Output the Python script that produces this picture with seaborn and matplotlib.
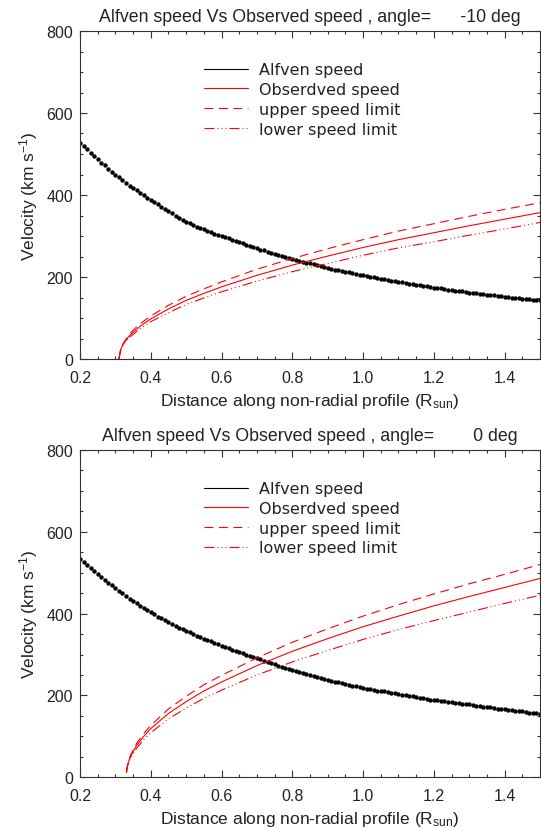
import numpy as np
import pandas as pd
import seaborn as sns
import matplotlib.pyplot as plt
from matplotlib.lines import Line2D
from matplotlib.ticker import MultipleLocator

# Alfven speed, one point every 0.01 Rsun from 0.2 to 1.5
distance = np.round(np.linspace(0.2, 1.5, 131), 2)

alfven_m10 = [527, 519, 511, 503, 495, 487, 479, 472, 464, 457,
              450, 443, 436, 430, 423, 417, 411, 405, 399, 393,
              388, 382, 377, 371, 366, 360, 355, 350, 345, 340,
              335, 331, 327, 323, 319, 316, 312, 309, 306, 303,
              300, 297, 294, 291, 288, 285, 282, 279, 276, 273,
              270, 267, 265, 262, 259, 257, 254, 252, 249, 247,
              244, 242, 240, 237, 235, 233, 231, 229, 227, 224,
              222, 220, 218, 217, 215, 213, 211, 209, 207, 206,
              204, 202, 201, 199, 198, 196, 194, 193, 191, 190,
              188, 187, 185, 184, 183, 181, 180, 178, 177, 175,
              174, 173, 172, 170, 169, 168, 167, 166, 165, 163,
              162, 161, 160, 159, 158, 157, 156, 155, 154, 153,
              152, 151, 150, 149, 148, 147, 147, 146, 145, 144,
              143]

alfven_0 = [534, 526, 519, 511, 504, 497, 490, 483, 476, 470,
            463, 456, 450, 443, 437, 431, 425, 419, 414, 408,
            403, 398, 393, 389, 384, 380, 375, 371, 366, 362,
            358, 354, 350, 346, 343, 339, 336, 332, 329, 325,
            322, 319, 316, 312, 309, 306, 303, 300, 297, 294,
            291, 288, 285, 282, 279, 276, 273, 270, 267, 265,
            262, 260, 257, 255, 252, 250, 248, 245, 243, 240,
            238, 236, 234, 232, 230, 228, 226, 224, 222, 220,
            218, 217, 215, 214, 212, 211, 210, 208, 207, 205,
            204, 202, 201, 199, 198, 196, 195, 193, 192, 190,
            189, 188, 187, 186, 185, 184, 182, 181, 180, 179,
            178, 177, 175, 174, 173, 172, 171, 169, 168, 167,
            166, 165, 164, 163, 162, 161, 160, 158, 157, 156,
            155]

# observed speed and its limits, angle = -10 deg
obs_dist_m10 = [0.31, 0.315, 0.32, 0.33, 0.34, 0.35, 0.37, 0.40, 0.45, 0.50, 0.55,
                0.60, 0.70, 0.80, 0.90, 1.00, 1.10, 1.20, 1.30, 1.40, 1.50]
observed_m10 = [0, 23, 33, 46, 57, 65, 80, 98, 122, 143, 160,
                176, 204, 229, 251, 272, 291, 308, 325, 341, 357]
upper_m10 = [0, 24, 35, 49, 61, 70, 86, 105, 131, 153, 171,
             188, 219, 245, 269, 291, 312, 330, 348, 365, 381]
lower_m10 = [0, 21, 31, 43, 53, 60, 74, 91, 113, 133, 149,
             164, 190, 213, 233, 253, 271, 286, 302, 317, 333]

# observed speed and its limits, angle = 0 deg
obs_dist_0 = [0.331, 0.335, 0.34, 0.35, 0.36, 0.38, 0.40, 0.45, 0.50, 0.55,
              0.60, 0.70, 0.80, 0.90, 1.00, 1.10, 1.20, 1.30, 1.40, 1.50]
observed_0 = [12, 32, 45, 63, 78, 100, 119, 156, 185, 211,
              233, 273, 308, 339, 368, 394, 419, 442, 464, 486]
upper_0 = [12, 34, 48, 67, 83, 107, 127, 167, 198, 226,
           249, 292, 330, 363, 394, 422, 448, 473, 496, 520]
lower_0 = [11, 29, 41, 58, 71, 92, 109, 143, 169, 193,
           213, 250, 282, 310, 337, 361, 383, 404, 425, 445]

angles = [-10, 0]
legend_labels = ['Alfven speed', 'Obserdved speed', 'upper speed limit', 'lower speed limit']

sns.set_theme(style='ticks')
plt.rcParams['font.family'] = ['Liberation Sans', 'DejaVu Sans']
plt.rcParams['mathtext.fontset'] = 'custom'
plt.rcParams['mathtext.rm'] = 'Liberation Sans'
plt.rcParams['mathtext.it'] = 'Liberation Sans:italic'

txt = '#222222'
lw = 0.8
dash_map = {'obs': '', 'upper': (8, 5), 'lower': (9, 2.7, 0.9, 2.7, 0.9, 2.7, 0.9, 2.7)}

fig = plt.figure(figsize=(5.41, 8.29), dpi=100)
ax1 = fig.add_axes([80 / 541, 1 - 360 / 829, 460 / 541, 328 / 829])
ax2 = fig.add_axes([80 / 541, 1 - 778.3 / 829, 460 / 541, 327.3 / 829])

panels = [
    (ax1, alfven_m10, obs_dist_m10, observed_m10, upper_m10, lower_m10),
    (ax2, alfven_0, obs_dist_0, observed_0, upper_0, lower_0),
]

for (ax, alfven, od, obs, up, low), angle in zip(panels, angles):
    n = len(od)
    df = pd.DataFrame({
        'dist': od * 3,
        'speed': obs + up + low,
        'kind': ['obs'] * n + ['upper'] * n + ['lower'] * n,
    })
    sns.lineplot(data=df, x='dist', y='speed', style='kind', dashes=dash_map,
                 color='red', lw=lw, estimator=None, sort=False, legend=False, ax=ax)
    sns.scatterplot(x=distance, y=alfven, color='black', s=10, linewidth=0,
                    marker='o', legend=False, ax=ax)

    ax.set_xlim(0.2, 1.5)
    ax.set_ylim(0, 800)
    ax.xaxis.set_major_locator(MultipleLocator(0.2))
    ax.xaxis.set_minor_locator(MultipleLocator(0.05))
    ax.yaxis.set_major_locator(MultipleLocator(200))
    ax.yaxis.set_minor_locator(MultipleLocator(50))
    ax.xaxis.set_major_formatter(plt.FuncFormatter(lambda v, p: f'{v:.1f}'))
    ax.tick_params(which='both', direction='in', top=True, right=True,
                   width=0.8, color='#333333', labelsize=11.5, labelcolor=txt)
    ax.tick_params(which='major', length=5)
    ax.tick_params(which='minor', length=2.5)
    ax.tick_params(axis='x', pad=8)
    ax.tick_params(axis='y', pad=5)
    for sp in ax.spines.values():
        sp.set_linewidth(0.8)
        sp.set_color('#333333')

    ax.set_xlabel(r'Distance along non-radial profile (R$_{\rm sun}$)',
                  fontsize=12.5, color=txt, labelpad=4)
    ax.set_ylabel(r'Velocity (km s$^{-1}$)', fontsize=12.5, color=txt, labelpad=4.5)
    ax.set_title(f'Alfven speed Vs Observed speed , angle= {angle:8d} deg',
                 fontsize=12.8, color=txt, pad=7)

    handles = [
        Line2D([], [], color='black', lw=lw),
        Line2D([], [], color='red', lw=lw),
        Line2D([], [], color='red', lw=lw, dashes=dash_map['upper']),
        Line2D([], [], color='red', lw=lw, dashes=dash_map['lower']),
    ]
    leg = ax.legend(handles, legend_labels, loc='upper left', bbox_to_anchor=(0.269, 0.905),
                    frameon=False, prop={'family': 'DejaVu Sans', 'size': 11.5},
                    handlelength=2.75, handletextpad=0.7, labelspacing=0.3,
                    borderaxespad=0, borderpad=0)
    for t in leg.get_texts():
        t.set_color(txt)

fig.savefig('out.png', dpi=100)
